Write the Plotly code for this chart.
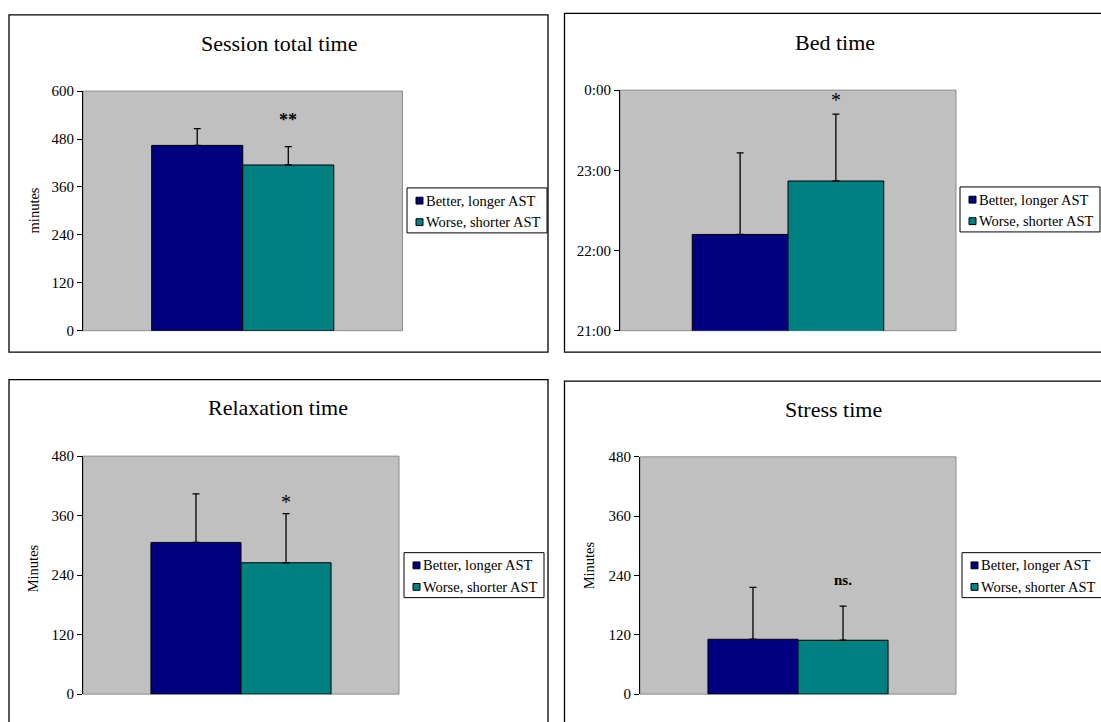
import plotly.graph_objects as go

# ---------------- data ----------------
groups = ["Better, longer AST", "Worse, shorter AST"]
colors = ["#000080", "#008080"]
category = ["AST group"]

session_mean = [464, 415]          # minutes
session_sd = [42, 46]
session_sig = "**"

bed_mean = ["22:12", "22:52"]      # clock time
bed_sd_min = [61, 50]              # minutes
bed_sig = "*"
bed_ticks = ["21:00", "22:00", "23:00", "0:00"]

relax_mean = [306, 265]            # minutes
relax_sd = [98, 99]
relax_sig = "*"

stress_mean = [111, 109]           # minutes
stress_sd = [105, 69]
stress_sig = "ns."

titles = ["Session total time", "Bed time", "Relaxation time", "Stress time"]
ytitles = ["minutes", "", "Minutes", "Minutes"]
minute_ticks_600 = [0, 120, 240, 360, 480, 600]
minute_ticks_480 = [0, 120, 240, 360, 480]

# ---------------- helpers ----------------
W, H = 1101, 722
FONT = "Liberation Serif, Times New Roman, serif"


def fx(x):
    return x / W


def fy(y):
    return 1 - y / H


def clock_to_hours(s):
    h, m = s.split(":")
    h = int(h)
    if h < 12:
        h += 24
    return h + int(m) / 60


bed_hours = [clock_to_hours(s) for s in bed_mean]
bed_sd_h = [v / 60 for v in bed_sd_min]
bed_tickvals = [clock_to_hours(s) for s in bed_ticks]

BARGAP = 0.43

panels = [
    dict(mean=session_mean, sd=session_sd, sig=session_sig, sig_y=527, sig_bold=True, sig_size=18,
         rng=[0, 600], tickvals=minute_ticks_600, ticktext=[str(v) for v in minute_ticks_600],
         xdom=[83, 402.5], ydom=[85, 330]),
    dict(mean=bed_hours, sd=bed_sd_h, sig=bed_sig, sig_y=23.88, sig_bold=False, sig_size=20,
         rng=[21, 24], tickvals=bed_tickvals, ticktext=bed_ticks,
         xdom=[620, 956], ydom=[84, 330]),
    dict(mean=relax_mean, sd=relax_sd, sig=relax_sig, sig_y=387, sig_bold=False, sig_size=20,
         rng=[0, 480], tickvals=minute_ticks_480, ticktext=[str(v) for v in minute_ticks_480],
         xdom=[83, 399], ydom=[458.3, 701.7]),
    dict(mean=stress_mean, sd=stress_sd, sig=stress_sig, sig_y=231, sig_bold=True, sig_size=15,
         rng=[0, 480], tickvals=minute_ticks_480, ticktext=[str(v) for v in minute_ticks_480],
         xdom=[640, 956], ydom=[459, 701.7]),
]

# panel frames (paper pixels): x0, y0, x1, y1
frames = [(9, 7, 548, 352), (564.5, 5.5, 1115, 352), (9, 380, 548, 740), (564.5, 381.5, 1115, 740)]
title_pos = [(279, 36), (835, 35), (278, 409), (833, 411)]
ytitle_pos = [(34, 207), None, (33, 573), (589, 570)]
legend_box = [(407, 184), (960, 183), (404, 557), (962, 557)]
LEG_W, LEG_H = 140, 46

fig = go.Figure()
layout = dict(
    width=W, height=H, autosize=False,
    margin=dict(l=0, r=0, t=0, b=0),
    paper_bgcolor="white", plot_bgcolor="#C0C0C0",
    barmode="group", bargap=BARGAP, bargroupgap=0,
    showlegend=False,
    font=dict(family=FONT, color="black", size=15),
)
shapes = []
annotations = []

for i, p in enumerate(panels):
    n = "" if i == 0 else str(i + 1)
    xa, ya = "x" + n, "y" + n
    for g in range(2):
        fig.add_trace(go.Bar(
            x=category, y=[p["mean"][g]], name=groups[g],
            marker=dict(color=colors[g], line=dict(color="black", width=1)),
            error_y=dict(type="data", symmetric=False, array=[p["sd"][g]], arrayminus=[0],
                         color="black", thickness=1.3, width=3.5),
            xaxis=xa, yaxis=ya, showlegend=False, hoverinfo="y",
        ))
    layout["xaxis" + n] = dict(
        domain=[fx(p["xdom"][0]), fx(p["xdom"][1])], anchor=ya, type="category",
        showticklabels=False, ticks="", showline=False, showgrid=False, zeroline=False,
        fixedrange=True,
    )
    layout["yaxis" + n] = dict(
        domain=[fy(p["ydom"][1]), fy(p["ydom"][0])], anchor=xa, range=p["rng"],
        tickvals=p["tickvals"], ticktext=p["ticktext"], ticks="outside", ticklen=5,
        tickwidth=1, tickcolor="black", showline=True, linecolor="black", linewidth=1,
        showgrid=False, zeroline=False, tickfont=dict(family=FONT, size=15, color="black"),
        fixedrange=True,
    )
    # plot-area border (grey)
    shapes.append(dict(type="rect", xref=xa + " domain", yref=ya + " domain", x0=0, x1=1, y0=0, y1=1,
                       line=dict(color="#8c8c8c", width=1), layer="below"))
    # significance mark above the second bar
    txt = "<b>%s</b>" % p["sig"] if p["sig_bold"] else p["sig"]
    annotations.append(dict(x=(1 - BARGAP) / 4, y=p["sig_y"], xref=xa, yref=ya, text=txt,
                            showarrow=False, font=dict(family=FONT, size=p["sig_size"], color="black"),
                            xanchor="center", yanchor="middle"))
    # panel frame
    x0, y0, x1, y1 = frames[i]
    shapes.append(dict(type="rect", xref="paper", yref="paper", x0=fx(x0), x1=fx(x1), y0=fy(y1), y1=fy(y0),
                       line=dict(color="black", width=1.3), layer="below"))
    # title
    tx, ty = title_pos[i]
    annotations.append(dict(x=fx(tx), y=fy(ty), xref="paper", yref="paper", text=titles[i], showarrow=False,
                            font=dict(family=FONT, size=22, color="black"), xanchor="center", yanchor="middle"))
    # y axis title
    if ytitle_pos[i] is not None:
        ax_, ay_ = ytitle_pos[i]
        annotations.append(dict(x=fx(ax_), y=fy(ay_), xref="paper", yref="paper", text=ytitles[i],
                                showarrow=False, textangle=-90,
                                font=dict(family=FONT, size=14.5, color="black"),
                                xanchor="center", yanchor="middle"))
    # legend box (drawn manually)
    lx, ly = legend_box[i]
    shapes.append(dict(type="rect", xref="paper", yref="paper", x0=fx(lx), x1=fx(lx + LEG_W),
                       y0=fy(ly + LEG_H), y1=fy(ly), line=dict(color="black", width=1),
                       fillcolor="white", layer="above"))
    for g in range(2):
        cy = ly + 13 + 22 * g
        shapes.append(dict(type="rect", xref="paper", yref="paper", x0=fx(lx + 9), x1=fx(lx + 16),
                           y0=fy(cy + 3.5), y1=fy(cy - 3.5), line=dict(color="black", width=1),
                           fillcolor=colors[g], layer="above"))
        annotations.append(dict(x=fx(lx + 17), y=fy(cy), xref="paper", yref="paper", text=groups[g],
                                showarrow=False, font=dict(family=FONT, size=14.5, color="black"),
                                xanchor="left", yanchor="middle"))

layout["shapes"] = shapes
layout["annotations"] = annotations
fig.update_layout(**layout)
fig.write_html("out.html")
